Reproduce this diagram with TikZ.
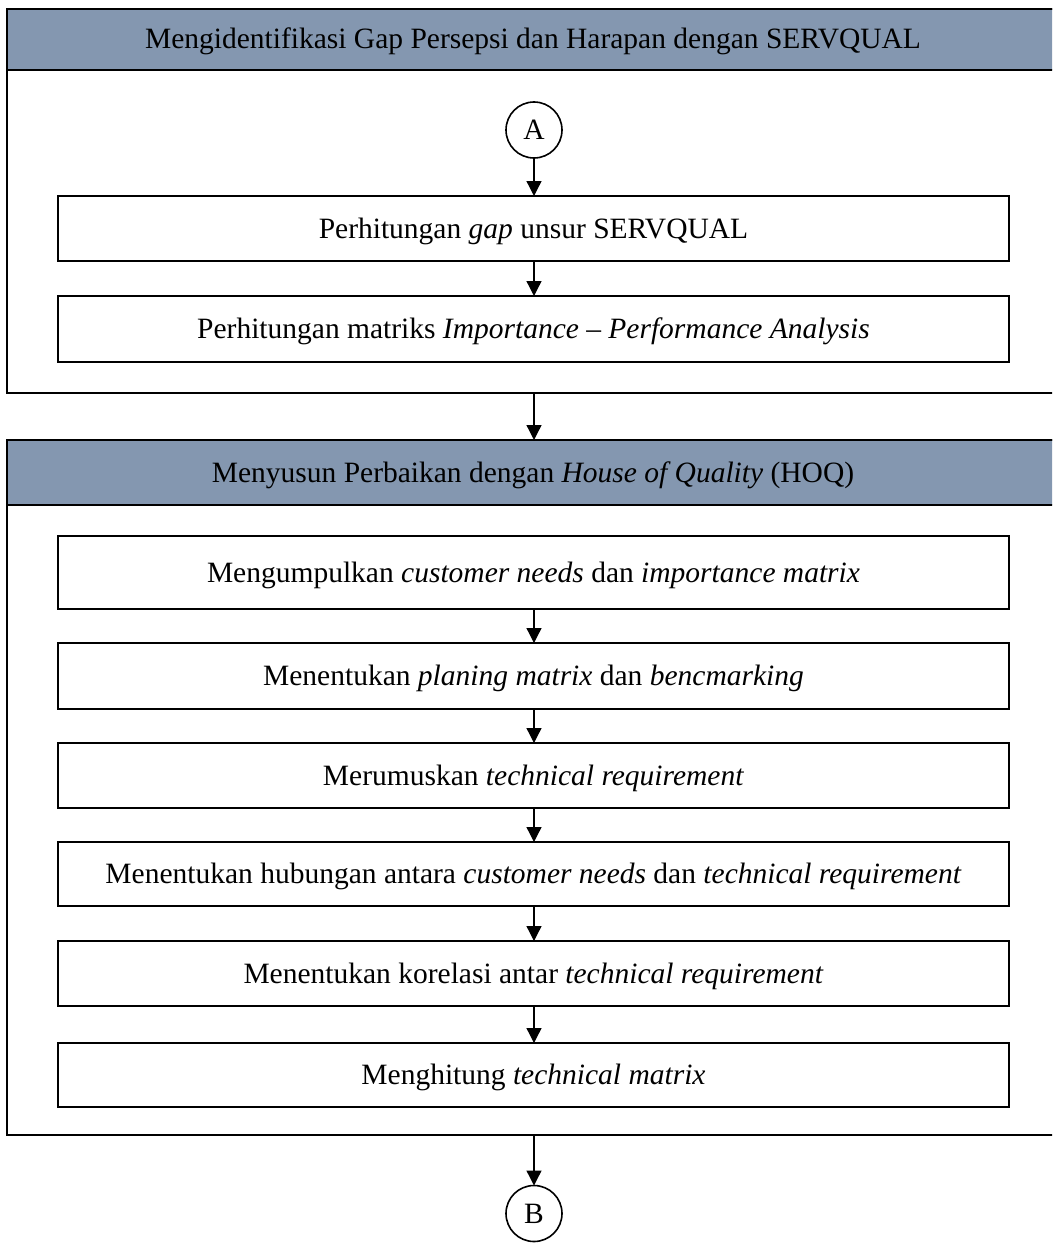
\documentclass[tikz,border=0pt]{standalone}
\usepackage{fontspec}
\setmainfont{Liberation Serif}
\usetikzlibrary{arrows.meta}
\definecolor{headfill}{HTML}{8497B0}
\begin{document}
\begin{tikzpicture}[x=1pt,y=-1pt,
  every node/.style={font=\fontsize{29.5}{34}\selectfont, inner sep=0pt, outer sep=0pt},
  frame/.style={draw=black, line width=2.8pt, rectangle, minimum width=1052pt},
  header/.style={draw=black, line width=2.8pt, fill=headfill, rectangle, minimum width=1052pt,
    text height=23pt, text depth=4pt},
  stepbox/.style={draw=black, line width=2.5pt, fill=white, rectangle, minimum width=951pt,
    text height=23pt, text depth=4pt},
  connector/.style={draw=black, circle, line width=1.6pt, minimum size=56pt},
  flow/.style={line width=1.3pt, -{Triangle[length=15pt,width=15pt]}}
]
\useasboundingbox (0,0) rectangle (1052,1244);
\begin{scope}
\clip (0,0) rectangle (1052,1244);

% first stage: SERVQUAL gap analysis
\node[frame, minimum height=384pt] (c1) at (533,201) {};
\node[header, minimum height=61pt] (h1) at (533,39.5) {Mengidentifikasi Gap Persepsi dan Harapan dengan SERVQUAL};
\node[connector] (A) at (534,130) {A};
\node[stepbox, minimum height=65pt] (s1) at (533.5,228.5) {Perhitungan \textit{gap} unsur SERVQUAL};
\node[stepbox, minimum height=66pt] (s2) at (533.5,329) {Perhitungan matriks \textit{Importance -- Performance Analysis}};

% second stage: House of Quality
\node[frame, minimum height=695pt] (c2) at (533,787.5) {};
\node[header, minimum height=65pt] (h2) at (533,472.5) {Menyusun Perbaikan dengan \textit{House of Quality} (HOQ)};
\node[stepbox, minimum height=73pt] (q1) at (533.5,572.5) {Mengumpulkan \textit{customer needs} dan \textit{importance matrix}};
\node[stepbox, minimum height=66pt] (q2) at (533.5,676) {Menentukan \textit{planing matrix} dan \textit{bencmarking}};
\node[stepbox, minimum height=65pt] (q3) at (533.5,775.5) {Merumuskan \textit{technical requirement}};
\node[stepbox, minimum height=64pt] (q4) at (533.5,874) {Menentukan hubungan antara \textit{customer needs} dan \textit{technical requirement}};
\node[stepbox, minimum height=65pt] (q5) at (533.5,973.5) {Menentukan korelasi antar \textit{technical requirement}};
\node[stepbox, minimum height=64pt] (q6) at (533.5,1075) {Menghitung \textit{technical matrix}};

\node[connector] (B) at (534,1213.5) {B};
\end{scope}

% flow arrows
\draw[flow] (A.south) -- (A.south |- s1.north);
\draw[flow] (s1.south -| A) -- (s2.north -| A);
\draw[flow] (c1.south -| A) -- (h2.north -| A);
\draw[flow] (q1.south -| A) -- (q2.north -| A);
\draw[flow] (q2.south -| A) -- (q3.north -| A);
\draw[flow] (q3.south -| A) -- (q4.north -| A);
\draw[flow] (q4.south -| A) -- (q5.north -| A);
\draw[flow] (q5.south -| A) -- (q6.north -| A);
\draw[flow] (c2.south -| A) -- (B.north);
\end{tikzpicture}
\end{document}
